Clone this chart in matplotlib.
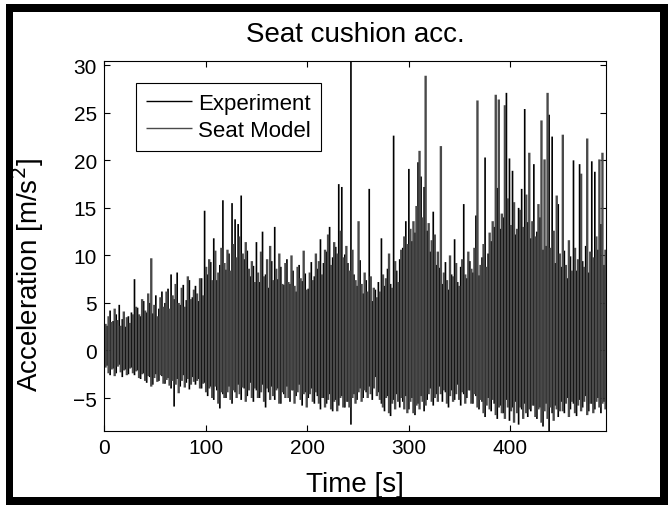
import numpy as np
import matplotlib.pyplot as plt
from matplotlib.patches import Rectangle

# sample step of the read-off extremes [s]
STEP = 3.0

# upper / lower extremes of each 3 s window
exp_hi = [3.4, 2.6, 4.2, 3.1, 3.8, 4.8, 3.3, 2.5, 3.6, 4.0,
          7.5, 4.5, 3.6, 5.2, 4.0, 5.0, 3.9, 5.8, 4.4, 6.2,
          5.0, 6.5, 8.0, 5.4, 8.2, 4.8, 6.9, 5.3, 7.4, 5.6,
          6.8, 5.2, 7.6, 14.7, 8.0, 9.3, 11.8, 7.4, 9.0, 15.8,
          8.5, 10.2, 15.5, 13.8, 13.3, 16.3, 9.6, 10.5, 7.8, 8.9,
          11.4, 7.2, 12.5, 8.0, 6.6, 9.4, 13.0, 7.5, 8.8, 6.9,
          9.6, 7.0, 8.4, 6.2, 9.0, 7.3, 8.1, 6.5, 9.3, 7.8,
          8.6, 11.7, 9.2, 10.4, 13.0, 9.8, 10.9, 17.5, 17.2, 10.1,
          9.2, 30.4, 8.0, 6.8, 9.5, 6.0, 7.4, 17.0, 5.2, 6.4,
          7.2, 11.8, 6.8, 8.6, 7.0, 22.6, 8.4, 9.6, 10.8, 13.6,
          19.1, 11.5, 12.4, 19.8, 18.3, 17.2, 12.6, 10.4, 14.6, 9.0,
          8.7, 7.0, 9.3, 6.4, 8.0, 11.7, 7.2, 8.8, 15.4, 7.6,
          9.4, 8.2, 14.2, 7.9, 9.8, 20.3, 10.2, 11.5, 13.0, 17.1,
          12.8, 14.0, 27.1, 20.2, 18.9, 12.2, 15.0, 17.0, 25.4, 13.5,
          11.8, 19.6, 12.5, 14.0, 10.6, 11.0, 24.8, 22.5, 9.2, 15.4,
          8.8, 10.5, 7.6, 9.9, 20.0, 8.4, 19.6, 9.4, 11.0, 8.2,
          19.9, 18.8, 10.6, 13.3, 9.0]
exp_lo = [-2.2, -1.6, -2.6, -1.9, -2.4, -1.5, -2.8, -2.0, -2.5, -1.8,
          -2.6, -2.1, -3.0, -2.4, -3.4, -2.8, -3.6, -2.5, -3.2, -2.7,
          -3.5, -2.9, -4.0, -5.9, -3.0, -3.8, -2.6, -3.4, -4.1, -2.8,
          -3.6, -3.0, -4.0, -3.4, -4.8, -3.8, -5.2, -4.2, -6.1, -4.6,
          -5.0, -3.8, -5.6, -4.4, -3.6, -5.2, -4.0, -4.8, -3.4, -5.4,
          -4.2, -5.0, -3.6, -6.0, -4.4, -3.8, -5.2, -4.0, -5.6, -4.6,
          -3.8, -5.4, -4.2, -4.8, -3.6, -5.8, -4.4, -5.0, -4.0, -5.6,
          -4.8, -6.2, -5.0, -5.6, -4.6, -6.4, -5.2, -5.8, -4.8, -6.0,
          -5.4, -7.8, -4.6, -5.2, -4.0, -5.0, -4.4, -3.8, -5.2, -2.8,
          -4.4, -5.6, -6.4, -4.8, -6.9, -5.2, -4.6, -6.0, -5.4, -4.8,
          -6.2, -5.0, -6.8, -5.6, -4.8, -6.4, -5.2, -4.0, -5.8, -4.6,
          -3.8, -5.4, -4.4, -6.0, -4.2, -5.2, -3.6, -5.8, -4.6, -5.0,
          -4.2, -5.6, -4.8, -6.2, -5.4, -7.0, -5.0, -6.4, -5.6, -7.2,
          -5.8, -6.6, -5.2, -7.4, -6.0, -5.4, -7.8, -6.2, -5.6, -7.0,
          -6.4, -5.8, -7.2, -6.0, -8.0, -5.6, -8.5, -6.6, -5.8, -7.0,
          -5.4, -6.6, -5.0, -6.2, -5.6, -6.9, -5.2, -6.0, -4.8, -6.4,
          -5.6, -6.2, -5.0, -6.6, -5.4]

mod_hi = [2.8, 3.6, 3.0, 4.4, 3.2, 2.6, 4.1, 3.5, 2.9, 3.8,
          4.6, 3.8, 5.4, 4.2, 6.0, 9.7, 4.8, 3.6, 5.6, 4.6,
          6.2, 4.4, 5.8, 7.0, 5.0, 6.6, 4.6, 7.8, 5.4, 6.4,
          6.0, 7.6, 5.8, 8.8, 9.6, 7.4, 10.5, 8.2, 10.8, 9.2,
          10.6, 8.4, 11.2, 9.8, 12.0, 10.2, 11.4, 8.6, 9.4, 7.2,
          8.2, 10.4, 7.8, 9.6, 11.0, 7.4, 8.6, 10.2, 7.0, 9.2,
          7.2, 10.0, 6.8, 8.8, 7.6, 10.5, 6.4, 8.2, 7.4, 10.2,
          9.4, 8.0, 10.6, 12.2, 9.0, 11.4, 10.2, 12.6, 9.8, 11.0,
          8.4, 10.6, 7.4, 13.6, 7.0, 8.2, 6.2, 7.8, 6.6, 5.6,
          6.2, 8.0, 7.6, 10.2, 6.6, 9.4, 7.2, 10.6, 12.0, 11.2,
          12.8, 13.6, 15.2, 21.0, 14.0, 28.9, 13.4, 11.6, 12.2, 10.4,
          21.5, 8.2, 7.4, 10.0, 7.8, 9.2, 6.8, 9.6, 8.0, 10.4,
          8.6, 10.8, 26.3, 9.0, 11.2, 8.8, 12.4, 13.6, 26.9, 26.4,
          14.4, 25.8, 16.0, 13.2, 15.6, 12.8, 14.8, 13.0, 16.4, 20.8,
          13.6, 12.0, 15.4, 24.2, 20.1, 27.1, 10.8, 12.6, 16.3, 10.2,
          22.7, 9.0, 11.6, 8.4, 10.8, 9.6, 18.6, 8.8, 22.3, 10.4,
          9.8, 12.0, 20.1, 20.8, 10.6]
mod_lo = [-1.8, -2.4, -2.0, -2.7, -1.7, -2.3, -2.1, -2.6, -1.9, -2.4,
          -2.2, -2.9, -2.5, -3.2, -2.7, -3.8, -2.9, -3.3, -2.6, -3.5,
          -3.1, -3.7, -3.2, -3.6, -4.5, -3.2, -3.9, -3.0, -3.6, -3.3,
          -3.2, -4.0, -3.5, -4.4, -4.0, -5.0, -3.8, -5.6, -4.4, -5.0,
          -4.4, -5.2, -4.2, -5.0, -4.6, -3.9, -5.4, -4.2, -5.0, -4.0,
          -5.0, -4.4, -5.4, -4.0, -5.2, -4.8, -4.2, -5.6, -4.4, -5.0,
          -5.0, -4.2, -5.6, -4.4, -5.2, -4.6, -6.0, -4.6, -5.4, -4.4,
          -5.6, -5.0, -6.0, -5.2, -6.2, -5.4, -6.4, -5.0, -6.0, -5.4,
          -6.0, -5.0, -5.6, -4.4, -5.4, -4.2, -5.0, -4.6, -4.0, -4.8,
          -5.2, -6.0, -5.0, -6.6, -5.6, -6.2, -5.4, -5.0, -6.2, -6.6,
          -5.4, -6.6, -5.8, -6.2, -5.4, -5.8, -4.6, -5.4, -5.0, -5.4,
          -4.6, -4.2, -5.6, -4.8, -5.4, -4.6, -5.2, -4.4, -5.6, -4.2,
          -5.6, -4.6, -6.0, -5.2, -6.6, -5.8, -6.2, -5.2, -6.8, -6.0,
          -6.6, -7.2, -6.0, -6.4, -7.6, -6.6, -6.0, -7.2, -6.6, -6.2,
          -5.8, -7.0, -6.2, -7.6, -6.4, -7.2, -6.0, -7.4, -6.2, -6.4,
          -6.4, -5.6, -7.0, -5.4, -6.6, -5.8, -6.4, -5.4, -6.8, -5.6,
          -6.6, -5.4, -6.0, -5.6, -6.2]

T_END = 494
FONT = ['Liberation Sans', 'DejaVu Sans']
MODEL_GRAY = '#4a4a4a'


def add_border(fig):
    # thick black frame round the whole figure (pixel coords)
    W, H = 668, 506
    bands = [(6, 0, 7, H - 5), (6, H - 13, W - 6, 8),
             (W - 8, 0, 8, H - 5), (6, 0, W - 6, 8)]
    for x0, y0, w, h in bands:
        fig.patches.append(Rectangle((x0 / W, y0 / H), w / W, h / H,
                                     transform=fig.transFigure,
                                     facecolor='black', edgecolor='none'))


plt.rcParams['font.family'] = FONT

fig = plt.figure(figsize=(6.68, 5.06), dpi=100)
ax = fig.add_axes([0.1557, 0.1457, 0.7515, 0.7308])

# each window drawn as a min-max stroke, the two traces interleaved
t_exp = np.arange(len(exp_hi)) * STEP
t_mod = t_exp + STEP / 2
ax.vlines(t_exp, exp_lo, exp_hi, color='black', lw=1.2, snap=False,
          label='Experiment')
ax.vlines(t_mod, mod_lo, mod_hi, color=MODEL_GRAY, lw=1.7, snap=False,
          label='Seat Model')

ymin = min(min(exp_lo), min(mod_lo))
ymax = max(max(exp_hi), max(mod_hi))
ax.set_xlim(0, T_END)
ax.set_ylim(ymin, ymax)
ax.set_xticks([0, 100, 200, 300, 400])
ax.set_yticks([-5, 0, 5, 10, 15, 20, 25, 30])
ax.tick_params(direction='in', length=4, width=0.8, labelsize=15,
               top=True, right=True, pad=5)
for s in ax.spines.values():
    s.set_linewidth(0.8)

ax.set_title('Seat cushion acc.', fontsize=20, pad=15)
ax.set_xlabel('Time [s]', fontsize=20, labelpad=10)
ax.set_ylabel('Acceleration [m/s$^2$]', fontsize=20)
ax.yaxis.set_label_coords(-0.115, 0.425)

leg = ax.legend(loc='upper left', bbox_to_anchor=(0.063, 0.943),
                borderaxespad=0, fancybox=False, edgecolor='black',
                fontsize=16, handlelength=2.1, handletextpad=0.25,
                labelspacing=0.3, borderpad=0.45, framealpha=1)
leg.get_frame().set_linewidth(0.8)
for h in leg.legend_handles:
    h.set_linewidth(1.0)

add_border(fig)
fig.savefig('out.png', dpi=100)
